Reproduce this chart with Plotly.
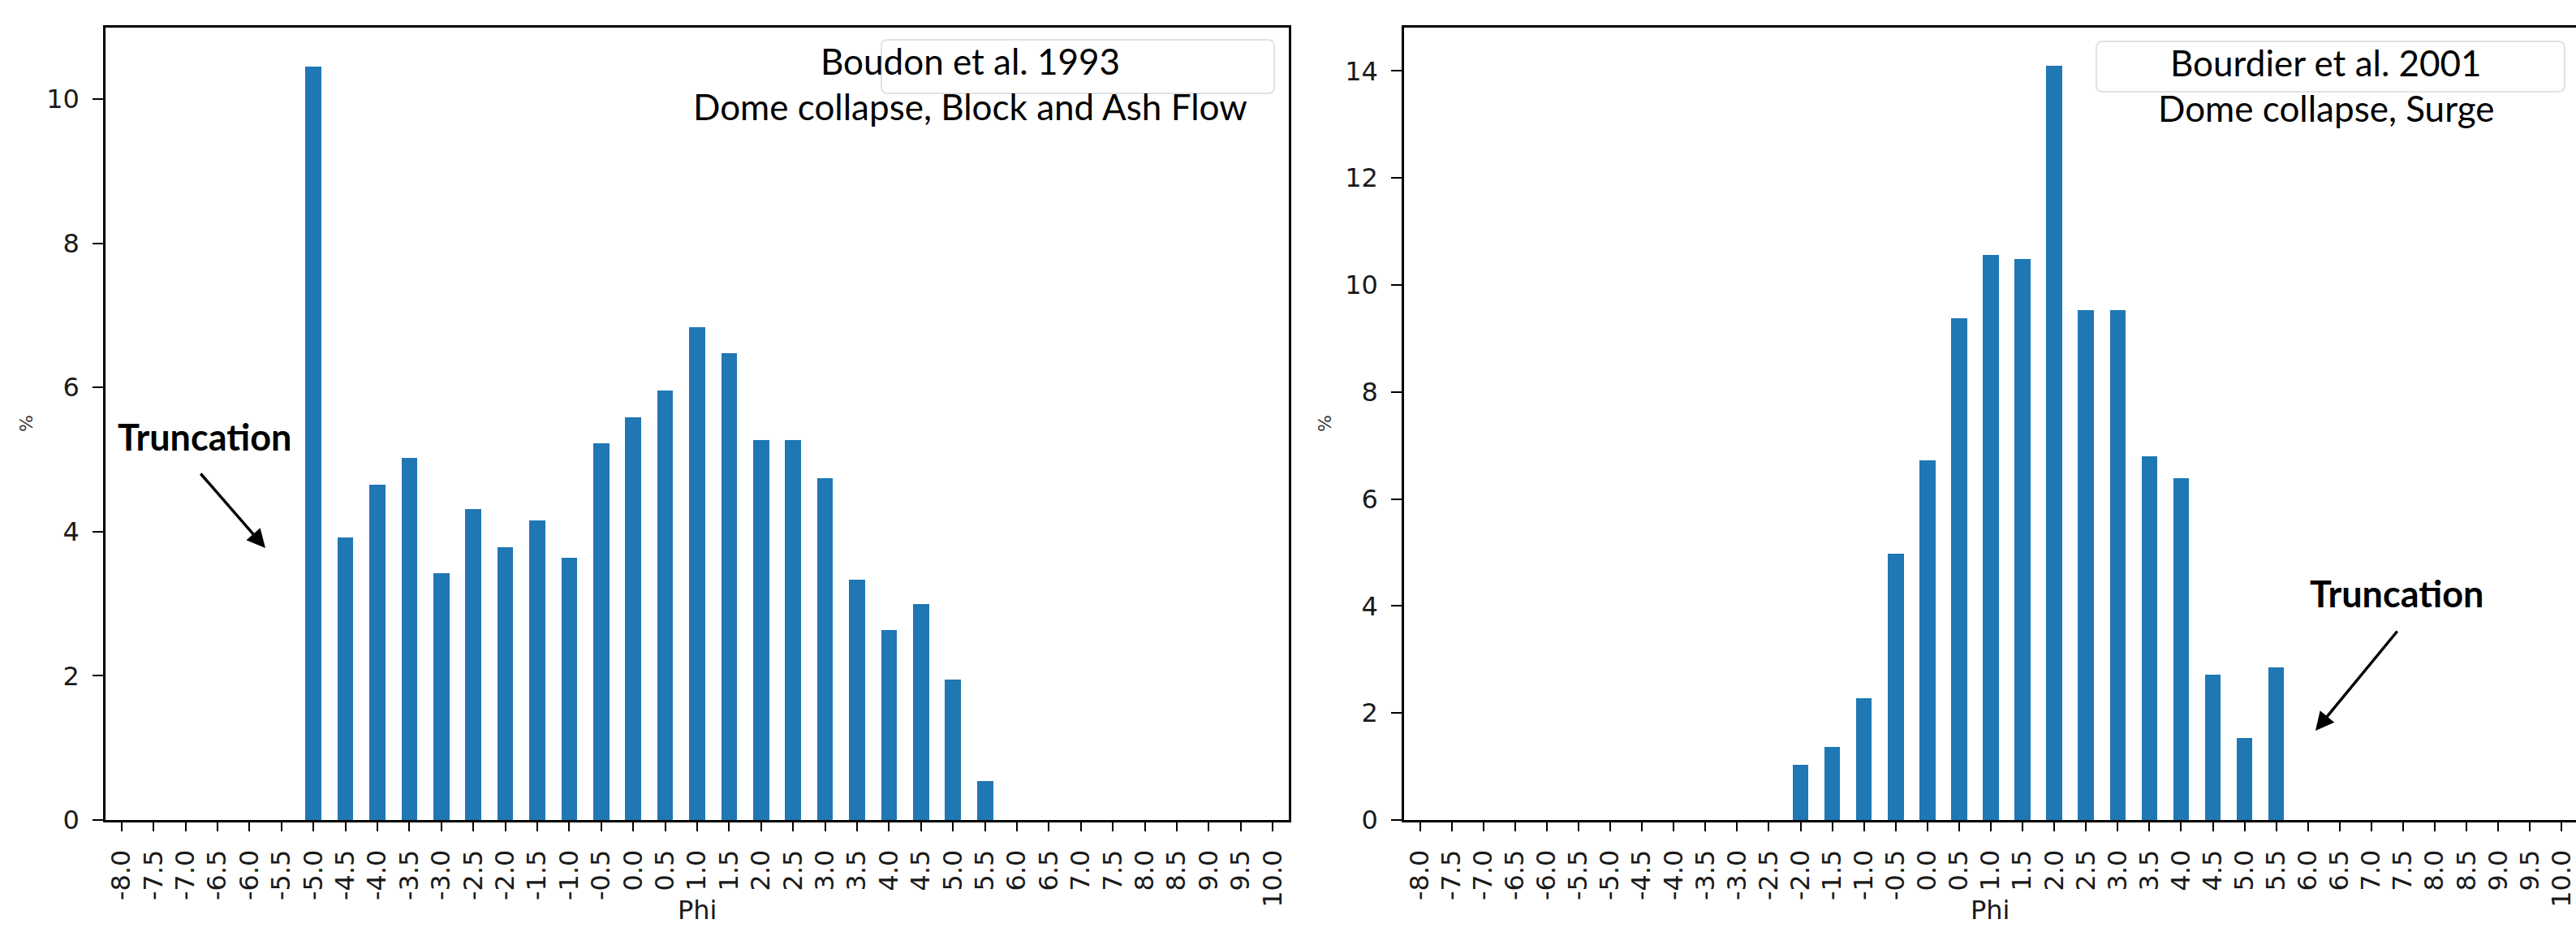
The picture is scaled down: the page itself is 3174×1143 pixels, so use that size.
import plotly.graph_objects as go

W, H = 3174, 1143

phi_labels = ["-8.0", "-7.5", "-7.0", "-6.5", "-6.0", "-5.5", "-5.0", "-4.5", "-4.0", "-3.5",
              "-3.0", "-2.5", "-2.0", "-1.5", "-1.0", "-0.5", "0.0", "0.5", "1.0", "1.5",
              "2.0", "2.5", "3.0", "3.5", "4.0", "4.5", "5.0", "5.5", "6.0", "6.5",
              "7.0", "7.5", "8.0", "8.5", "9.0", "9.5", "10.0"]

boudon_1993 = [0, 0, 0, 0, 0, 0, 10.45, 3.92, 4.65, 5.02,
               3.42, 4.31, 3.78, 4.15, 3.64, 5.22, 5.58, 5.96, 6.84, 6.47,
               5.27, 5.27, 4.74, 3.33, 2.63, 3.00, 1.95, 0.545, 0, 0,
               0, 0, 0, 0, 0, 0, 0]

bourdier_2001 = [0, 0, 0, 0, 0, 0, 0, 0, 0, 0,
                 0, 0, 1.03, 1.37, 2.28, 4.98, 6.72, 9.38, 10.56, 10.48,
                 14.09, 9.53, 9.53, 6.80, 6.39, 2.71, 1.53, 2.85, 0, 0,
                 0, 0, 0, 0, 0, 0, 0]

left_yticks = [0, 2, 4, 6, 8, 10]
right_yticks = [0, 2, 4, 6, 8, 10, 12, 14]

left_title = ["Boudon et al. 1993", "Dome collapse, Block and Ash Flow"]
right_title = ["Bourdier et al. 2001", "Dome collapse, Surge"]

def px(x):
    return x / W

def py(y):
    return 1 - y / H

idx = list(range(len(phi_labels)))
BLUE = "#1f77b4"
TICKFONT = dict(family="DejaVu Sans", size=32, color="#1a1a1a")

fig = go.Figure()
fig.add_trace(go.Bar(x=idx, y=boudon_1993, width=0.5, marker=dict(color=BLUE, line=dict(width=0)),
                     xaxis="x", yaxis="y", showlegend=False))
fig.add_trace(go.Bar(x=idx, y=bourdier_2001, width=0.5, marker=dict(color=BLUE, line=dict(width=0)),
                     xaxis="x2", yaxis="y2", showlegend=False))

ydom = [py(1010), py(34)]
common_x = dict(tickmode="array", tickvals=idx, ticktext=phi_labels, tickangle=-90,
                ticks="outside", ticklen=11, tickwidth=2, tickcolor="black",
                showline=True, linecolor="black", linewidth=2.5, showgrid=False, zeroline=False,
                tickfont=TICKFONT, ticklabelstandoff=10, ticklabeloverflow="allow",
                automargin=False)
common_y = dict(ticks="outside", ticklen=13, tickwidth=2, tickcolor="black",
                showline=True, linecolor="black", linewidth=2.5, showgrid=False, zeroline=False,
                tickfont=TICKFONT, ticklabelstandoff=10, automargin=False)

fig.update_layout(
    width=W, height=H,
    margin=dict(l=0, r=0, t=0, b=0, autoexpand=False),
    paper_bgcolor="white", plot_bgcolor="white",
    bargap=0,
    xaxis=dict(domain=[px(130), px(1588)], range=[-0.5, 36.5], anchor="y", mirror=True, **common_x),
    yaxis=dict(domain=ydom, range=[0, 10.99], anchor="x", mirror=True,
               tickvals=left_yticks, **common_y),
    xaxis2=dict(domain=[px(1730), 1.0], range=[-0.5, 36.45], anchor="y2", mirror=True, **common_x),
    yaxis2=dict(domain=ydom, range=[0, 14.81], anchor="x2", mirror=True,
                tickvals=right_yticks, **common_y),
)

def rounded_box(x0, y0, x1, y1, r=8):
    X0, X1 = px(x0), px(x1)
    Y0, Y1 = py(y0), py(y1)
    rx, ry = r / W, r / H
    path = (f"M {X0+rx},{Y0} L {X1-rx},{Y0} Q {X1},{Y0} {X1},{Y0-ry} "
            f"L {X1},{Y1+ry} Q {X1},{Y1} {X1-rx},{Y1} "
            f"L {X0+rx},{Y1} Q {X0},{Y1} {X0},{Y1+ry} "
            f"L {X0},{Y0-ry} Q {X0},{Y0} {X0+rx},{Y0} Z")
    return dict(type="path", xref="paper", yref="paper", path=path,
                line=dict(color="#e2e2e2", width=2), fillcolor="white", layer="above")

fig.add_shape(**rounded_box(1086, 49, 1570, 115))
fig.add_shape(**rounded_box(2583, 51, 3160, 113))

TITLEFONT = dict(family="Lato", size=44, color="black")
ann = []
ann.append(dict(x=px(1195), y=py(75), text=left_title[0]))
ann.append(dict(x=px(1195), y=py(131), text=left_title[1]))
ann.append(dict(x=px(2866), y=py(77), text=right_title[0]))
ann.append(dict(x=px(2866), y=py(133), text=right_title[1]))
for a in ann:
    fig.add_annotation(xref="paper", yref="paper", xanchor="center", yanchor="middle",
                       showarrow=False, font=TITLEFONT, **a)

TRUNCFONT = dict(family="Lato", size=45, color="black")
fig.add_annotation(xref="paper", yref="paper", x=px(252), y=py(538), text="<b>Truncation</b>",
                   showarrow=False, xanchor="center", yanchor="middle", font=TRUNCFONT)
fig.add_annotation(xref="paper", yref="paper", x=px(2953), y=py(731), text="<b>Truncation</b>",
                   showarrow=False, xanchor="center", yanchor="middle", font=TRUNCFONT)

# arrows
fig.add_annotation(xref="paper", yref="paper", x=px(327), y=py(675), ax=-81, ay=-93,
                   axref="pixel", ayref="pixel", text="", showarrow=True,
                   arrowhead=2, arrowsize=1.3, arrowwidth=3.5, arrowcolor="black")
fig.add_annotation(xref="paper", yref="paper", x=px(2853), y=py(900), ax=102, ay=-124,
                   axref="pixel", ayref="pixel", text="", showarrow=True,
                   arrowhead=2, arrowsize=1.3, arrowwidth=3.5, arrowcolor="black")

# axis labels
AXFONT = dict(family="DejaVu Sans", size=32, color="#1a1a1a")
fig.add_annotation(xref="paper", yref="paper", x=px(859), y=0.001, text="Phi", showarrow=False,
                   xanchor="center", yanchor="bottom", font=AXFONT)
fig.add_annotation(xref="paper", yref="paper", x=px(2452), y=0.001, text="Phi", showarrow=False,
                   xanchor="center", yanchor="bottom", font=AXFONT)
fig.add_annotation(xref="paper", yref="paper", x=px(32), y=py(522), text="%", showarrow=False,
                   xanchor="center", yanchor="middle", textangle=-90,
                   font=dict(family="DejaVu Sans", size=22, color="#333"))
fig.add_annotation(xref="paper", yref="paper", x=px(1632), y=py(522), text="%", showarrow=False,
                   xanchor="center", yanchor="middle", textangle=-90,
                   font=dict(family="DejaVu Sans", size=22, color="#333"))

fig.write_html("out.html")
